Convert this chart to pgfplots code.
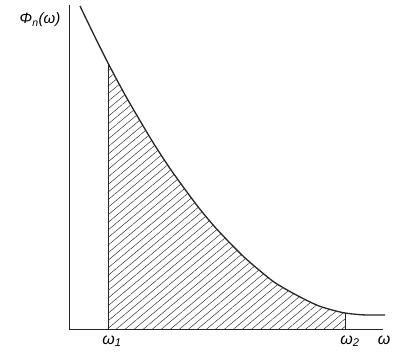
\documentclass[border=0pt]{standalone}
\usepackage{pgfplots}
\pgfplotsset{compat=1.18}
\usepgfplotslibrary{fillbetween}
\usetikzlibrary{patterns.meta}
\usepackage{fontspec}
\setmainfont{Liberation Sans}
\begin{document}
\begin{tikzpicture}
\begin{axis}[
  at={(0,0)}, anchor=origin,
  scale only axis, width=314pt, height=324pt,
  xmin=0, xmax=314, ymin=0, ymax=324,
  axis lines=left, axis line style={-, line width=0.9pt, black!85},
  xtick=\empty, ytick=\empty,
  clip=false,
]
\addplot[name path=curve, smooth, line width=1.3pt, black!85] coordinates {
(11,323) (25,294) (39,266) (55,236) (70,210) (85,185) (100,162) (115,141)
(130,121) (145,103) (160,87) (175,72) (190,59) (205,47) (220,38) (235,30)
(250,23) (265,18.5) (276,16) (290,14.4) (300,14) (316,14)};
\path[name path=base] (axis cs:0,0) -- (axis cs:316,0);
\addplot[draw=none, pattern={Lines[angle=40,distance=5.8pt,line width=0.5pt]}, pattern color=black!80]
  fill between[of=curve and base, soft clip={domain=39:276}];
\addplot[line width=0.7pt, black!85] coordinates {(39,0) (39,266)};
\addplot[line width=0.7pt, black!85] coordinates {(276,0) (276,16)};
\node[font=\fontsize{15}{15}\selectfont\itshape] at (axis cs:-29,309) {Φ\textsubscript{n}(ω)};
\node[font=\fontsize{16}{16}\selectfont\itshape] at (axis cs:43,-12) {ω\textsubscript{1}};
\node[font=\fontsize{16}{16}\selectfont\itshape] at (axis cs:281,-12) {ω\textsubscript{2}};
\node[font=\fontsize{16}{16}\selectfont\itshape] at (axis cs:315,-11) {ω};
\end{axis}
\pgfresetboundingbox
\path[use as bounding box] (-69pt,-22pt) rectangle (329pt,329pt);
\end{tikzpicture}
\end{document}
